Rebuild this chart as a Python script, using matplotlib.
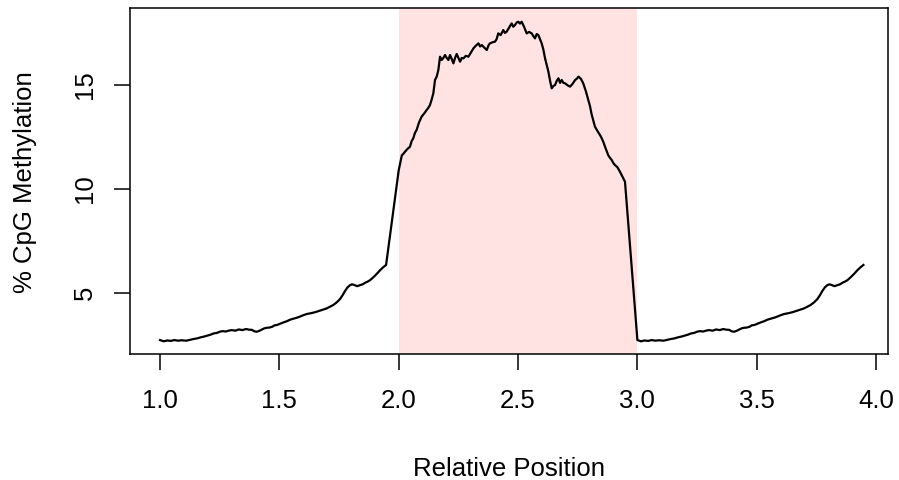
import matplotlib
matplotlib.use("Agg")
import matplotlib.pyplot as plt

plt.rcParams['font.family'] = ['Liberation Sans', 'DejaVu Sans']

# Upstream flank (1.0 - 1.95)
up_x = [1.000, 1.015, 1.030, 1.045, 1.060, 1.075, 1.090, 1.110, 1.125, 1.140, 1.155, 1.170,
        1.185, 1.200, 1.212, 1.225, 1.237, 1.250, 1.262, 1.275, 1.287, 1.300, 1.315, 1.330,
        1.345, 1.360, 1.372, 1.385, 1.395, 1.405, 1.415, 1.425, 1.436, 1.447, 1.458, 1.470,
        1.480, 1.489, 1.502, 1.515, 1.530, 1.545, 1.562, 1.580, 1.597, 1.614, 1.632, 1.650,
        1.674, 1.698, 1.712, 1.725, 1.740, 1.754, 1.765, 1.775, 1.786, 1.796, 1.805, 1.815,
        1.826, 1.838, 1.849, 1.860, 1.870, 1.880, 1.890, 1.900, 1.911, 1.922, 1.935, 1.947]
up_y = [2.74, 2.68, 2.72, 2.70, 2.74, 2.71, 2.73, 2.71, 2.75, 2.79, 2.82, 2.87,
        2.91, 2.96, 3.00, 3.06, 3.08, 3.14, 3.17, 3.15, 3.19, 3.22, 3.19, 3.25,
        3.22, 3.27, 3.24, 3.23, 3.16, 3.14, 3.18, 3.24, 3.30, 3.33, 3.34, 3.38,
        3.45, 3.46, 3.52, 3.58, 3.64, 3.72, 3.78, 3.84, 3.92, 3.99, 4.03, 4.08,
        4.17, 4.26, 4.34, 4.42, 4.55, 4.71, 4.90, 5.10, 5.28, 5.38, 5.42, 5.38,
        5.33, 5.38, 5.42, 5.50, 5.55, 5.62, 5.72, 5.83, 5.96, 6.10, 6.24, 6.35]

# Central region (2.0 - 2.95)
mid_x = [2.000, 2.007, 2.013, 2.020, 2.026, 2.036, 2.047, 2.054, 2.061, 2.068, 2.075, 2.085,
         2.096, 2.106, 2.117, 2.124, 2.131, 2.138, 2.145, 2.152, 2.159, 2.166, 2.173, 2.180,
         2.187, 2.194, 2.201, 2.208, 2.215, 2.222, 2.229, 2.236, 2.243, 2.250, 2.257, 2.264,
         2.271, 2.281, 2.292, 2.302, 2.313, 2.324, 2.334, 2.341, 2.348, 2.358, 2.369, 2.376,
         2.382, 2.392, 2.403, 2.410, 2.417, 2.427, 2.438, 2.445, 2.452, 2.462, 2.473, 2.480,
         2.487, 2.494, 2.501, 2.508, 2.515, 2.525, 2.536, 2.546, 2.557, 2.564, 2.571, 2.578,
         2.585, 2.592, 2.599, 2.606, 2.613, 2.620, 2.627, 2.634, 2.641, 2.648, 2.655, 2.662,
         2.669, 2.676, 2.683, 2.690, 2.697, 2.708, 2.718, 2.728, 2.739, 2.746, 2.753, 2.763,
         2.773, 2.784, 2.794, 2.801, 2.808, 2.815, 2.822, 2.832, 2.843, 2.850, 2.857, 2.867,
         2.878, 2.885, 2.892, 2.899, 2.906, 2.916, 2.927, 2.937, 2.948]
mid_y = [10.91, 11.30, 11.62, 11.70, 11.79, 11.92, 12.03, 12.30, 12.44, 12.70, 12.84, 13.20,
         13.48, 13.62, 13.80, 13.90, 14.04, 14.30, 14.60, 15.24, 15.40, 15.72, 16.36, 16.20,
         16.30, 16.44, 16.30, 16.20, 16.44, 16.25, 16.04, 16.30, 16.49, 16.30, 16.12, 16.30,
         16.28, 16.40, 16.36, 16.55, 16.76, 16.90, 17.00, 16.85, 16.92, 16.80, 16.68, 16.90,
         17.00, 17.05, 17.08, 17.20, 17.48, 17.40, 17.64, 17.50, 17.56, 17.75, 17.96, 17.80,
         17.88, 18.00, 18.04, 17.95, 18.04, 17.80, 17.48, 17.55, 17.48, 17.35, 17.24, 17.45,
         17.40, 17.20, 17.00, 16.70, 16.28, 15.95, 15.64, 15.20, 14.84, 14.95, 15.00, 15.20,
         15.32, 15.10, 15.24, 15.10, 15.08, 14.98, 14.92, 15.05, 15.24, 15.30, 15.40, 15.30,
         15.08, 14.70, 14.28, 14.00, 13.60, 13.30, 13.00, 12.80, 12.60, 12.45, 12.27, 11.95,
         11.62, 11.50, 11.40, 11.25, 11.15, 11.05, 10.83, 10.60, 10.35]

# Downstream flank (3.0 - 3.95)
down_x = [3.000, 3.015, 3.030, 3.045, 3.060, 3.075, 3.090, 3.110, 3.125, 3.140, 3.155, 3.170,
          3.185, 3.200, 3.212, 3.225, 3.237, 3.250, 3.262, 3.275, 3.287, 3.300, 3.315, 3.330,
          3.345, 3.360, 3.372, 3.385, 3.395, 3.405, 3.415, 3.425, 3.436, 3.447, 3.458, 3.470,
          3.480, 3.489, 3.502, 3.515, 3.530, 3.545, 3.562, 3.580, 3.597, 3.614, 3.632, 3.650,
          3.674, 3.698, 3.712, 3.725, 3.740, 3.754, 3.765, 3.775, 3.786, 3.796, 3.805, 3.815,
          3.826, 3.838, 3.849, 3.860, 3.870, 3.880, 3.890, 3.900, 3.911, 3.922, 3.935, 3.947]
down_y = [2.74, 2.68, 2.72, 2.70, 2.74, 2.71, 2.73, 2.71, 2.75, 2.79, 2.82, 2.87,
          2.91, 2.96, 3.00, 3.06, 3.08, 3.14, 3.17, 3.15, 3.19, 3.22, 3.19, 3.25,
          3.22, 3.27, 3.24, 3.23, 3.16, 3.14, 3.18, 3.24, 3.30, 3.33, 3.34, 3.38,
          3.45, 3.46, 3.52, 3.58, 3.64, 3.72, 3.78, 3.84, 3.92, 3.99, 4.03, 4.08,
          4.17, 4.26, 4.34, 4.42, 4.55, 4.71, 4.90, 5.10, 5.28, 5.38, 5.42, 5.38,
          5.33, 5.38, 5.42, 5.50, 5.55, 5.62, 5.72, 5.83, 5.96, 6.10, 6.24, 6.35]

region = [2.0, 3.0]
x_ticks = [1.0, 1.5, 2.0, 2.5, 3.0, 3.5, 4.0]
x_tick_labels = ["1.0", "1.5", "2.0", "2.5", "3.0", "3.5", "4.0"]
y_ticks = [5, 10, 15]
y_tick_labels = ["5", "10", "15"]

xs = up_x + mid_x + down_x
ys = up_y + mid_y + down_y

W, H = 899, 480
FS = 18.5
fig = plt.figure(figsize=(W / 100, H / 100), dpi=100)
ax = fig.add_axes([130 / W, 1 - 354 / H, (888 - 130) / W, (354 - 8) / H])

ax.axvspan(region[0], region[1], color=(1.0, 0.0, 0.0, 0.11), lw=0)
ax.plot(xs, ys, color='black', lw=1.6)

ax.set_xlim(0.874, 4.05)
ax.set_ylim(2.07, 18.70)
ax.set_xticks(x_ticks)
ax.set_xticklabels(x_tick_labels)
ax.set_yticks(y_ticks)
ax.set_yticklabels(y_tick_labels, rotation=90, va='center')

for s in ax.spines.values():
    s.set_linewidth(1.1)
    s.set_color('black')
ax.tick_params(axis='both', direction='out', length=11.5, width=1.1, labelsize=FS)
ax.tick_params(axis='x', pad=14)
ax.tick_params(axis='y', pad=12)

fig.text(509 / W, 1 - 476 / H, "Relative Position", ha='center', va='baseline', fontsize=FS)
fig.text(32 / W, 1 - 182 / H, "% CpG Methylation", ha='center', va='baseline',
         rotation=90, rotation_mode='anchor', fontsize=FS)

fig.savefig("out.png", dpi=100)
